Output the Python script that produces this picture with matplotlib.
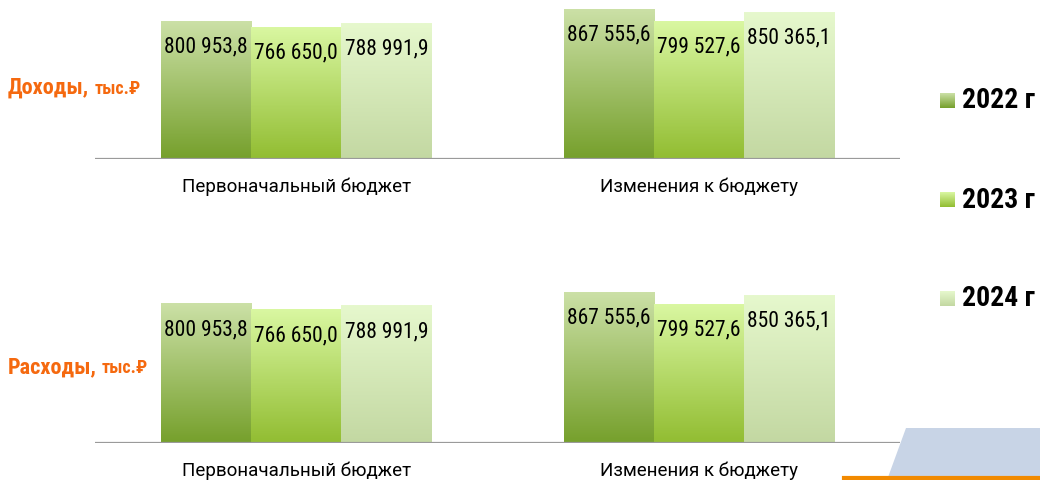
import numpy as np
import matplotlib
matplotlib.use("Agg")
import matplotlib.pyplot as plt
from matplotlib.colors import LinearSegmentedColormap
from matplotlib.patches import Polygon

groups = ["Первоначальный бюджет", "Изменения к бюджету"]
years = ["2022 г", "2023 г", "2024 г"]
income = [[800953.8, 766650.0, 788991.9], [867555.6, 799527.6, 850365.1]]
expense = [[800953.8, 766650.0, 788991.9], [867555.6, 799527.6, 850365.1]]
panel_titles = ["Доходы,", "Расходы,"]

# top / bottom colour of each year's gradient
grad = [("#cbe0a6", "#76a02c"), ("#d9f7a1", "#92bd32"), ("#e6f8cd", "#c3d8a2")]

narrow = ["Roboto Condensed", "Liberation Sans Narrow", "DejaVu Sans"]
orange = "#f5690f"

fig = plt.figure(figsize=(10.4, 4.8), dpi=100)


def fmt(v):
    s = "{:,.1f}".format(v)
    return s.replace(",", " ").replace(".", ",")


def panel(rect, data, ytop):
    ax = fig.add_axes(rect)
    w = 0.224
    x = np.arange(len(groups))
    for i in range(len(years)):
        vals = [d[i] for d in data]
        bars = ax.bar(x + (i - 1) * w, vals, w, color="none", zorder=2)
        cmap = LinearSegmentedColormap.from_list("g%d" % i, [grad[i][1], grad[i][0]])
        for b, v in zip(bars, vals):
            x0 = b.get_x()
            ax.imshow(np.linspace(0, 1, 100).reshape(-1, 1), cmap=cmap, origin="lower",
                      extent=(x0, x0 + w, 0, v), aspect="auto", zorder=2)
            ax.annotate(fmt(v), (x0 + w / 2, v), xytext=(0, -18.5), textcoords="offset points",
                        ha="center", va="center", fontsize=15.5, family=narrow, zorder=3)
    ax.set_xlim(-0.5, 1.5)
    ax.set_ylim(0, ytop)
    ax.axhline(0, color="#9a9a9a", lw=1.6, zorder=4)
    for s in ax.spines.values():
        s.set_visible(False)
    ax.set_yticks([])
    ax.set_xticks(x)
    ax.set_xticklabels(groups, fontsize=13.5, family=["Roboto", "DejaVu Sans"])
    ax.tick_params(axis="x", length=0, pad=13)
    ax.patch.set_alpha(0)
    return ax


panel([95 / 1040, 321 / 480, 805 / 1040, 159 / 480], income, 924000)
panel([95 / 1040, 37 / 480, 805 / 1040, 159 / 480], expense, 915000)

# left labels
for t, y in zip(panel_titles, [88, 367]):
    tx = fig.text(8 / 1040, 1 - y / 480, t, color=orange, fontsize=16, fontweight="bold",
                  family=narrow, va="center", ha="left")
    fig.canvas.draw()
    bb = tx.get_window_extent()
    fig.text(bb.x1 / 1040 + 0.005, 1 - (y + 1) / 480, "тыс.₽", color=orange, fontsize=13,
             fontweight="bold", family=narrow, va="center", ha="left")

# legend
for i, (lab, y) in enumerate(zip(years, [101, 200, 299])):
    sw = fig.add_axes([940 / 1040, 1 - (y + 7) / 480, 15 / 1040, 15 / 480])
    cmap = LinearSegmentedColormap.from_list("l%d" % i, [grad[i][1], grad[i][0]])
    sw.imshow(np.linspace(0, 1, 50).reshape(-1, 1), cmap=cmap, origin="lower", aspect="auto")
    sw.axis("off")
    fig.text(962 / 1040, 1 - y / 480, lab, fontsize=20, fontweight="bold", family=narrow,
             va="center", ha="left")

# corner decoration
fig.patches.append(Polygon([(887 / 1040, 0), (906 / 1040, 52 / 480), (1, 52 / 480), (1, 0)],
                           closed=True, transform=fig.transFigure, facecolor="#c8d4e6",
                           edgecolor="none", zorder=0))
fig.add_artist(plt.Line2D([844 / 1040, 1], [2 / 480, 2 / 480], color="#f28a00", lw=3,
                          transform=fig.transFigure))

fig.savefig("out.png", dpi=100)
